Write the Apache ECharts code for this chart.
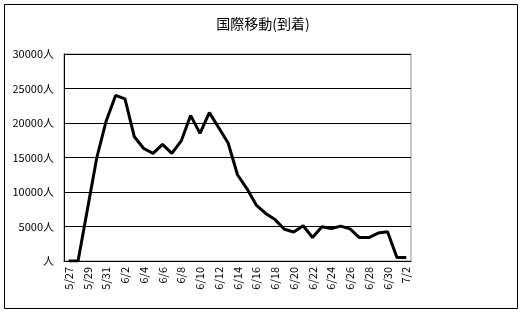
<!DOCTYPE html>
<html>
<head>
    <meta charset="utf-8">
    <title>国際移動(到着)</title>
    <script src="https://cdn.jsdelivr.net/npm/echarts@6/dist/echarts.min.js"></script>
    <style>
        body { margin: 0; background: #fff; }
        #main { width: 530px; height: 317px; }
    </style>
</head>
<body>
    <div id="main"></div>
    <script>
        // 日付（5/27〜7/2）
        var days = ['5/27', '5/28', '5/29', '5/30', '5/31',
            '6/1', '6/2', '6/3', '6/4', '6/5', '6/6', '6/7', '6/8', '6/9', '6/10',
            '6/11', '6/12', '6/13', '6/14', '6/15', '6/16', '6/17', '6/18', '6/19', '6/20',
            '6/21', '6/22', '6/23', '6/24', '6/25', '6/26', '6/27', '6/28', '6/29', '6/30',
            '7/1', '7/2'];
        // 到着人数
        var arrivals = [0, 0, 7500, 15000, 20300, 24000, 23500, 18000, 16300, 15600,
            16900, 15600, 17400, 21100, 18500, 21500, 19300, 17100, 12500, 10500,
            8100, 6900, 6000, 4600, 4200, 5100, 3400, 4950, 4700, 5050,
            4650, 3400, 3400, 4050, 4250, 500, 500];
        var yTicks = [0, 5000, 10000, 15000, 20000, 25000, 30000];

        var font = '"Noto Sans CJK JP", sans-serif';
        var myChart = echarts.init(document.getElementById('main'));

        var option = {
            animation: false,
            backgroundColor: '#fff',
            title: {
                text: '国際移動(到着)',
                left: 258,
                textAlign: 'center',
                top: 12,
                textStyle: { fontFamily: font, fontSize: 14, fontWeight: 'normal', color: '#000' }
            },
            graphic: [{
                type: 'rect',
                shape: { x: 4.5, y: 4.5, width: 513, height: 304 },
                style: { fill: null, stroke: '#000', lineWidth: 1 }
            }],
            grid: {
                left: 64, right: 119, top: 54, bottom: 56,
                show: true, borderColor: '#909090', borderWidth: 1
            },
            xAxis: {
                type: 'category',
                data: days,
                boundaryGap: true,
                axisLine: { lineStyle: { color: '#000', width: 1 } },
                axisTick: { interval: 1, inside: true, length: 3, lineStyle: { color: '#000' } },
                axisLabel: {
                    interval: 1, rotate: 90, margin: 6,
                    fontFamily: font, fontSize: 11, color: '#000'
                }
            },
            yAxis: {
                type: 'value',
                min: yTicks[0],
                max: yTicks[yTicks.length - 1],
                interval: 5000,
                axisLine: { show: true, lineStyle: { color: '#000' } },
                axisTick: { show: false },
                axisLabel: {
                    margin: 10, fontFamily: font, fontSize: 11, color: '#000',
                    formatter: function (v) { return v === 0 ? '人' : v + '人'; }
                },
                splitLine: { lineStyle: { color: '#000', width: 1 } }
            },
            series: [{
                type: 'line',
                data: arrivals,
                symbol: 'none',
                lineStyle: { color: '#000', width: 3 }
            }]
        };

        myChart.setOption(option);
    </script>
</body>
</html>
